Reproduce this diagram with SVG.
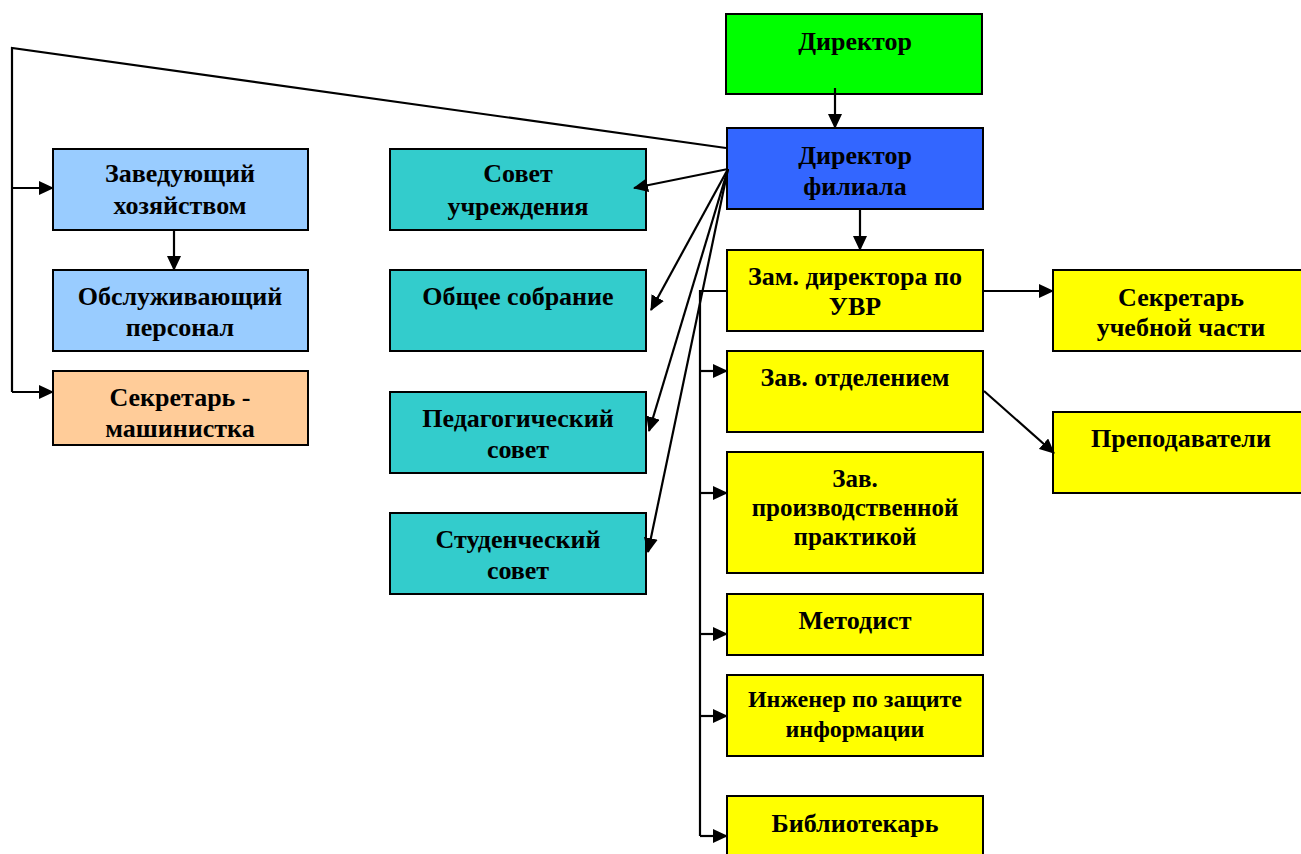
<svg xmlns="http://www.w3.org/2000/svg" width="1301" height="854" viewBox="0 0 1301 854">
<style>
.b{stroke:#000;stroke-width:2}
.t{font-family:"Liberation Serif","Times New Roman",serif;font-weight:bold;font-size:26px;text-anchor:middle;fill:#000}
.s{font-size:25px}
.u{font-size:24px}
.c{fill:none;stroke:#000;stroke-width:2.2}
</style>
<defs>
<marker id="a" viewBox="0 0 15 14" refX="14" refY="7" markerWidth="15" markerHeight="14" markerUnits="userSpaceOnUse" orient="auto"><path d="M0,0 L15,7 L0,14 Z" fill="#000"/></marker>
</defs>
<rect width="1301" height="854" fill="#fff"/>
<g id="director"><rect class="b" x="726" y="14" width="256" height="80" fill="#00FF00"/><text class="t" x="855" y="50">Директор</text></g>
<g id="director-filiala"><rect class="b" x="727" y="128" width="256" height="81" fill="#3366FF"/><text class="t" x="855" y="164">Директор</text><text class="t" x="855" y="195">филиала</text></g>
<g id="zam"><rect class="b" x="727" y="250" width="256" height="81" fill="#FFFF00"/><text class="t" x="855" y="285">Зам. директора по</text><text class="t" x="855" y="315">УВР</text></g>
<g id="zav-otdel"><rect class="b" x="727" y="351" width="256" height="81" fill="#FFFF00"/><text class="t" x="855" y="386">Зав. отделением</text></g>
<g id="zav-prakt"><rect class="b" x="727" y="452" width="256" height="121" fill="#FFFF00"/><text class="t s" x="855" y="487">Зав.</text><text class="t s" x="855" y="516">производственной</text><text class="t s" x="855" y="545">практикой</text></g>
<g id="metodist"><rect class="b" x="727" y="594" width="256" height="61" fill="#FFFF00"/><text class="t" x="855" y="629">Методист</text></g>
<g id="inzhener"><rect class="b" x="727" y="675" width="256" height="81" fill="#FFFF00"/><text class="t u" x="855" y="707">Инженер по защите</text><text class="t u" x="855" y="737">информации</text></g>
<g id="bibliotekar"><rect class="b" x="727" y="796" width="256" height="70" fill="#FFFF00"/><text class="t" x="855" y="832">Библиотекарь</text></g>
<g id="sekretar-uch"><rect class="b" x="1053" y="270" width="260" height="81" fill="#FFFF00"/><text class="t" x="1181" y="306">Секретарь</text><text class="t" x="1181" y="336">учебной части</text></g>
<g id="prepodavateli"><rect class="b" x="1053" y="412" width="260" height="81" fill="#FFFF00"/><text class="t" x="1181" y="447">Преподаватели</text></g>
<g id="zav-hoz"><rect class="b" x="53" y="149" width="255" height="81" fill="#99CCFF"/><text class="t" x="180" y="182">Заведующий</text><text class="t" x="180" y="214">хозяйством</text></g>
<g id="obsluzh"><rect class="b" x="53" y="270" width="255" height="81" fill="#99CCFF"/><text class="t" x="180" y="305">Обслуживающий</text><text class="t" x="180" y="336">персонал</text></g>
<g id="sekretar-mash"><rect class="b" x="53" y="371" width="255" height="74" fill="#FFCC99"/><text class="t" x="180" y="406">Секретарь -</text><text class="t" x="180" y="437">машинистка</text></g>
<g id="sovet-uchr"><rect class="b" x="390" y="149" width="256" height="81" fill="#33CCCC"/><text class="t" x="518" y="182">Совет</text><text class="t" x="518" y="215">учреждения</text></g>
<g id="obshchee"><rect class="b" x="390" y="270" width="256" height="81" fill="#33CCCC"/><text class="t" x="518" y="305">Общее собрание</text></g>
<g id="ped-sovet"><rect class="b" x="390" y="392" width="256" height="81" fill="#33CCCC"/><text class="t" x="518" y="427">Педагогический</text><text class="t" x="518" y="458">совет</text></g>
<g id="stud-sovet"><rect class="b" x="390" y="513" width="256" height="81" fill="#33CCCC"/><text class="t" x="518" y="548">Студенческий</text><text class="t" x="518" y="579">совет</text></g>
<g id="connectors">
<polyline class="c" points="726,148 12,48 12,392"/>
<line class="c" x1="12" y1="188" x2="53" y2="188" marker-end="url(#a)"/>
<line class="c" x1="12" y1="392" x2="53" y2="392" marker-end="url(#a)"/>
<line class="c" x1="174" y1="231" x2="174" y2="270" marker-end="url(#a)"/>
<line class="c" x1="835" y1="88" x2="835" y2="128" marker-end="url(#a)"/>
<line class="c" x1="860" y1="210" x2="860" y2="250" marker-end="url(#a)"/>
<line class="c" x1="728" y1="169" x2="634" y2="188" marker-end="url(#a)"/>
<line class="c" x1="728" y1="169" x2="651" y2="310" marker-end="url(#a)"/>
<line class="c" x1="728" y1="169" x2="649" y2="431" marker-end="url(#a)"/>
<line class="c" x1="728" y1="169" x2="648" y2="552" marker-end="url(#a)"/>
<line class="c" x1="984" y1="291" x2="1053" y2="291" marker-end="url(#a)"/>
<line class="c" x1="984" y1="391" x2="1054" y2="453" marker-end="url(#a)"/>
<polyline class="c" points="727,291 700,291 700,836"/>
<line class="c" x1="700" y1="371" x2="727" y2="371" marker-end="url(#a)"/>
<line class="c" x1="700" y1="493" x2="727" y2="493" marker-end="url(#a)"/>
<line class="c" x1="700" y1="634" x2="727" y2="634" marker-end="url(#a)"/>
<line class="c" x1="700" y1="716" x2="727" y2="716" marker-end="url(#a)"/>
<line class="c" x1="700" y1="836" x2="727" y2="836" marker-end="url(#a)"/>
</g>
</svg>
